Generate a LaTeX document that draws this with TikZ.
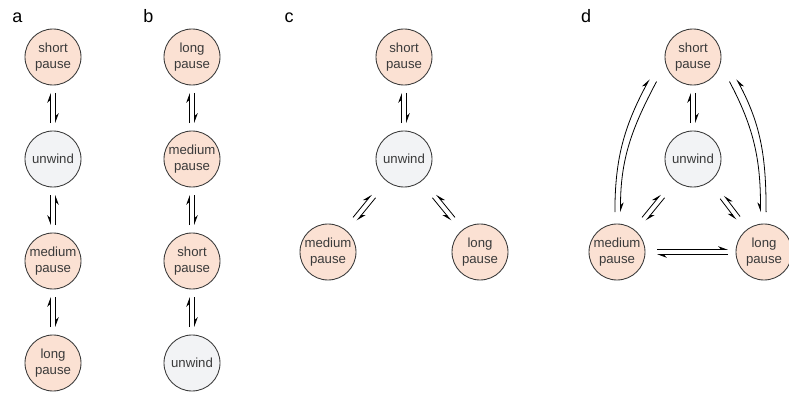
\documentclass[tikz,border=0pt]{standalone}
\usepackage{fontspec}
\setmainfont{Liberation Sans}
\usetikzlibrary{arrows.meta, calc, positioning}

\definecolor{pausefill}{HTML}{FBE1D3}
\definecolor{unwindfill}{HTML}{F2F3F5}
\definecolor{rimgray}{HTML}{3A3A3A}

\begin{document}
\begin{tikzpicture}[
  x=0.75pt, y=0.75pt,
% 1. Circles for the states
  statenode/.style={
    circle,
    draw=rimgray,
    line width=0.65pt,
    minimum size=42pt,
    inner sep=0pt,
    align=center,
    text=rimgray,
    font=\fontsize{9.9}{12.5}\selectfont
  },
  pausenode/.style={statenode, fill=pausefill},
  unwindnode/.style={statenode, fill=unwindfill},
% 2. Panel letters
  paneltag/.style={anchor=base, font=\fontsize{13.5}{16}\selectfont},
% 3. Half arrows, drawn side by side (offset to the left, or to the right)
  harpL/.style={
    line width=0.6pt,
    -{Stealth[left, length=6.5pt, width=4.8pt]},
    shorten <=27pt, shorten >=27pt,
    to path={($(\tikztostart)!1.9pt!90:(\tikztotarget)$) -- ($(\tikztotarget)!1.9pt!-90:(\tikztostart)$)}
  },
  harpR/.style={
    line width=0.6pt,
    -{Stealth[right, length=6.5pt, width=4.8pt]},
    shorten <=27pt, shorten >=27pt,
    to path={($(\tikztostart)!1.9pt!-90:(\tikztotarget)$) -- ($(\tikztotarget)!1.9pt!90:(\tikztostart)$)}
  },
% 4. Long curved half arrows of panel d
  bowL/.style={line width=0.6pt, -{Stealth[left, length=6.5pt, width=4.8pt]}},
  bowR/.style={line width=0.6pt, -{Stealth[right, length=6.5pt, width=4.8pt]}}
]
  \useasboundingbox (0,0) rectangle (789,-403);

  % Panel letters
  \node[paneltag] (tagA) at (17.5,-23) {a};
  \node[paneltag] (tagB) at (148.5,-23) {b};
  \node[paneltag] (tagC) at (289,-23) {c};
  \node[paneltag] (tagD) at (586,-23) {d};

  % Panel a
  \node[pausenode]  (a1) at (53,-57)  {short\\pause};
  \node[unwindnode] (a2) at (53,-159) {unwind};
  \node[pausenode]  (a3) at (53,-261) {medium\\pause};
  \node[pausenode]  (a4) at (53,-363) {long\\pause};

  % Panel b
  \node[pausenode]  (b1) at (192,-57)  {long\\pause};
  \node[pausenode]  (b2) at (192,-159) {medium\\pause};
  \node[pausenode]  (b3) at (192,-261) {short\\pause};
  \node[unwindnode] (b4) at (192,-363) {unwind};

  % Panel c
  \node[pausenode]  (c1) at (404,-57)  {short\\pause};
  \node[unwindnode] (c2) at (404,-159) {unwind};
  \node[pausenode]  (c3) at (328,-252) {medium\\pause};
  \node[pausenode]  (c4) at (480,-252) {long\\pause};

  % Panel d
  \node[pausenode]  (d1) at (693,-57)  {short\\pause};
  \node[unwindnode] (d2) at (693,-159) {unwind};
  \node[pausenode]  (d3) at (617,-252) {medium\\pause};
  \node[pausenode]  (d4) at (764,-252) {long\\pause};

  % Panel a transitions (middle pair is mirrored)
  \path
  (a2) edge[harpL] (a1)
  (a1) edge[harpL] (a2)
  (a2) edge[harpR] (a3)
  (a3) edge[harpR] (a2)
  (a4) edge[harpL] (a3)
  (a3) edge[harpL] (a4);

  % Panel b transitions
  \path
  (b2) edge[harpL] (b1)
  (b1) edge[harpL] (b2)
  (b3) edge[harpL] (b2)
  (b2) edge[harpL] (b3)
  (b4) edge[harpL] (b3)
  (b3) edge[harpL] (b4);

  % Panel c transitions
  \path
  (c2) edge[harpL] (c1)
  (c1) edge[harpL] (c2)
  (c3) edge[harpL, shorten <=32pt, shorten >=36pt] (c2)
  (c2) edge[harpL, shorten <=36pt, shorten >=32pt] (c3)
  (c4) edge[harpR, shorten <=32pt, shorten >=36pt] (c2)
  (c2) edge[harpR, shorten <=36pt, shorten >=32pt] (c4);

  % Panel d transitions
  \path
  (d2) edge[harpL] (d1)
  (d1) edge[harpL] (d2)
  (d3) edge[harpL, shorten <=32pt, shorten >=36pt] (d2)
  (d2) edge[harpL, shorten <=36pt, shorten >=32pt] (d3)
  (d4) edge[harpR, shorten <=32pt, shorten >=36pt] (d2)
  (d2) edge[harpR, shorten <=36pt, shorten >=32pt] (d4)
  (d3) edge[harpL, shorten <=30pt, shorten >=27pt] (d4)
  (d4) edge[harpL, shorten <=27pt, shorten >=30pt] (d3);

  % Panel d outer bows
  \draw[bowL] ($(d3)+(93:40)$) to[out=90, in=242] ($(d1)+(207:49)$);
  \draw[bowL] ($(d1)+(214:44)$) to[out=242, in=90] ($(d3)+(85:40)$);
  \draw[bowR] ($(d4)+(87:40)$) to[out=90, in=-62] ($(d1)+(-27:49)$);
  \draw[bowR] ($(d1)+(-34:44)$) to[out=-62, in=90] ($(d4)+(95:40)$);

\end{tikzpicture}
\end{document}
